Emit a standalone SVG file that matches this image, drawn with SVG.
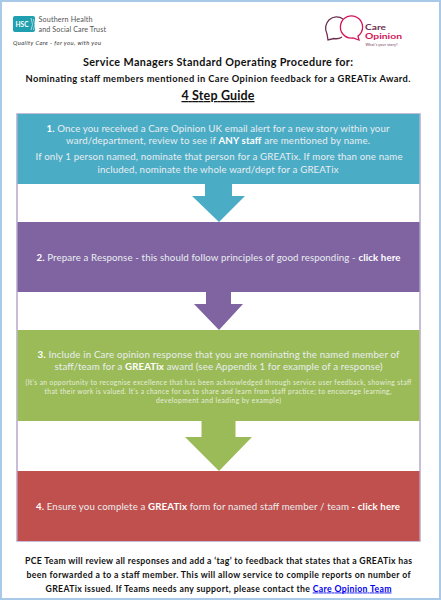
<svg xmlns="http://www.w3.org/2000/svg" width="441" height="600" viewBox="0 0 441 600">
<style>
text{font-family:Lato,"Open Sans","Liberation Sans",sans-serif;text-anchor:middle}
.k{fill:#111;font-weight:700}
.w{fill:#e9eef0;font-size:9.7px}
.s{fill:#e6eddc;font-size:6.7px}
.b{font-weight:700;fill:#fff}
.box{stroke:none}
</style>
<rect x="1" y="1" width="439" height="598" fill="#fff" stroke="#a9c9e8" stroke-width="2"/>
<g id="hsc-logo">
<rect x="13" y="16" width="22" height="16" rx="2" fill="#1f9fb0"/>
<path d="M31 30Q34 25 31 18M33.500 30Q36 25 33.500 19" fill="none" stroke="#fff" stroke-width="0.600"/>
<text x="22" y="27" style="font-size:6.500px;font-weight:700;fill:#fff">HSC</text>
<text x="38.500" y="21.700" style="font-size:7.200px;fill:#555;text-anchor:start" textLength="54">Southern Health</text>
<text x="38.500" y="31.700" style="font-size:7.200px;fill:#555;text-anchor:start" textLength="67.500">and Social Care Trust</text>
<text x="13" y="44.500" style="font-size:5.800px;font-style:italic;fill:#333;text-anchor:start" textLength="88">Quality Care - for you, with you</text>
</g>
<g id="care-opinion-logo" fill="none" stroke-width="1.300">
<path d="M343 19A11 11.500 0 0 0 327 34L328 40 334 38.500A11 11.500 0 0 0 342 37" stroke="#6d2f50"/>
<path d="M358 36L359 40 353 38A11.100 11.100 0 1 1 358 36Z" stroke="#d3145a"/>
<text x="365" y="29.700" stroke="none" style="font-size:7.300px;font-weight:700;fill:#6d2f50;text-anchor:start" textLength="21" lengthAdjust="spacingAndGlyphs">Care</text>
<text x="365" y="38.800" stroke="none" style="font-size:7.300px;font-weight:700;fill:#d3145a;text-anchor:start" textLength="37" lengthAdjust="spacingAndGlyphs">Opinion</text>
<text x="365.500" y="46" stroke="none" style="font-size:3.500px;fill:#6d2f50;text-anchor:start" textLength="32">What's your story?</text>
</g>
<g id="title">
<text class="k" x="218" y="66" style="font-size:10.800px" textLength="270">Service Managers Standard Operating Procedure for:</text>
<text class="k" x="218" y="82" style="font-size:9.300px" textLength="385">Nominating staff members mentioned in Care Opinion feedback for a GREATix Award.</text>
<text class="k" x="218" y="100" style="font-size:12.500px;text-decoration:underline" textLength="73">4 Step Guide</text>
</g>
<rect x="17" y="114" width="403" height="427" fill="#fff" stroke="#b5a8cc" stroke-width="1.500"/>
<g id="connectors">
<path d="M205 184H232V196H245L219 222 192 196H205Z" fill="#4bacc6"/>
<path d="M206 292H231V304H243L219 330 194 304H206Z" fill="#8064a2"/>
<path d="M201.500 421H235.500V437H252L219 471 185 437H201.500Z" fill="#9bbb59"/>
</g>
<g id="step-1">
<rect class="box" x="17.500" y="114" width="402" height="70" fill="#4bacc6"/>
<text class="w" x="218" y="132" textLength="343"><tspan class="b">1.</tspan> Once you received a Care Opinion UK email alert for a new story within your</text>
<text class="w" x="218" y="144" textLength="304">ward/department, review to see if <tspan class="b">ANY staff</tspan> are mentioned by name.</text>
<text class="w" x="219" y="160" textLength="367">If only 1 person named, nominate that person for a GREATix. If more than one name</text>
<text class="w" x="218" y="173" textLength="241">included, nominate the whole ward/dept for a GREATix</text>
</g>
<g id="step-2">
<rect class="box" x="17.500" y="222" width="402" height="70" fill="#8064a2"/>
<text class="w" x="218.500" y="261" textLength="364"><tspan class="b">2.</tspan> Prepare a Response - this should follow principles of good responding - <tspan class="b">click here</tspan></text>
</g>
<g id="step-3">
<rect class="box" x="17.500" y="330" width="402" height="91" fill="#9bbb59"/>
<text class="w" x="218.500" y="358" textLength="362"><tspan class="b">3.</tspan> Include in Care opinion response that you are nominating the named member of</text>
<text class="w" x="218.500" y="370" textLength="328">staff/team for a <tspan class="b">GREATix</tspan> award (see Appendix 1 for example of a response)</text>
<text class="s" x="218.500" y="385" textLength="386">(It’s an opportunity to recognise excellence that has been acknowledged through service user feedback, showing staff</text>
<text class="s" x="218" y="394" textLength="347">that their work is valued. It’s a chance for us to share and learn from staff practice; to encourage learning,</text>
<text class="s" x="218.500" y="403" textLength="125">development and leading by example)</text>
</g>
<g id="step-4">
<rect class="box" x="17.500" y="471" width="402" height="70" fill="#c0504d"/>
<text class="w" x="218" y="510" textLength="364"><tspan class="b">4.</tspan> Ensure you complete a <tspan class="b">GREATix</tspan> form for named staff member / team <tspan class="b">- click here</tspan></text>
</g>
<g id="footer">
<text class="k" x="218.500" y="564" style="font-size:8.700px" textLength="387">PCE Team will review all responses and add a ‘tag’ to feedback that states that a GREATix has</text>
<text class="k" x="218.500" y="577.500" style="font-size:8.700px" textLength="384">been forwarded a to a staff member. This will allow service to compile reports on number of</text>
<text class="k" x="218.500" y="591.500" style="font-size:8.700px" textLength="346">GREATix issued. If Teams needs any support, please contact the <tspan fill="#0000ee" text-decoration="underline">Care Opinion Team</tspan></text>
</g>
</svg>
